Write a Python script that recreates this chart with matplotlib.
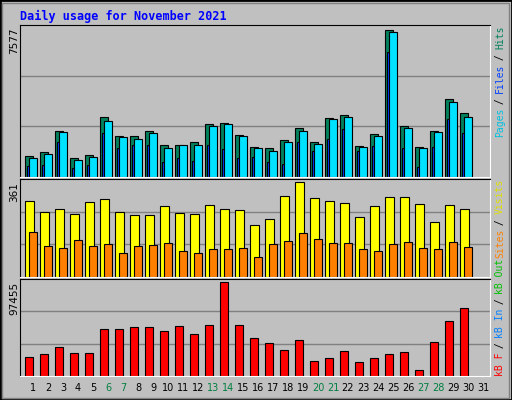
import matplotlib.pyplot as plt
import numpy as np
from matplotlib.patches import Rectangle

# Данные
days = np.arange(1, 31)
hits = [1100, 1306, 2385, 997, 1151, 3105, 2128, 2128, 2385, 1665, 1665, 1820, 2745, 2796, 2179,
        1563, 1511, 1922, 2539, 1820, 3053, 3207, 1614, 2231, 7577, 2642, 1563, 2385, 4030, 3310]
files = [997, 1203, 2334, 894, 1049, 2899, 2077, 1974, 2282, 1511, 1665, 1665, 2642, 2745, 2128,
         1511, 1357, 1820, 2385, 1717, 3002, 3105, 1563, 2128, 7474, 2539, 1511, 2334, 3876, 3105]
pages = [586, 637, 1820, 483, 637, 2282, 1511, 1665, 1665, 792, 997, 843, 1665, 1460, 997,
         1049, 792, 689, 1820, 1357, 1974, 2488, 1357, 1614, 6446, 1511, 535, 1563, 3002, 2282]
visits = [290, 247, 259, 239, 286, 298, 247, 235, 235, 270, 243, 239, 274, 259, 255,
          200, 223, 310, 361, 302, 290, 282, 227, 270, 306, 306, 278, 211, 274, 259]
sites = [172, 117, 109, 140, 117, 125, 93, 117, 121, 129, 101, 93, 105, 105, 109,
         77, 125, 137, 168, 144, 129, 129, 105, 101, 125, 133, 109, 105, 133, 113]
kbytes = [19490, 22680, 30120, 23740, 23740, 49260, 49260, 51390, 51390, 47130, 52450, 43940, 53510, 97455, 53510,
          39690, 34370, 26930, 37570, 15240, 18430, 25870, 14180, 18430, 22680, 24810, 6730, 35440, 56700, 70520]
weekend = [6, 7, 13, 14, 20, 21, 27, 28]

BG = '#c0c0c0'
W, H = 512, 400
fig = plt.figure(figsize=(5.12, 4), dpi=100, facecolor=BG)

def box(x0, y0, x1, y1):
    return [x0 / W, 1 - y1 / H, (x1 - x0) / W, (y1 - y0) / H]

# рамка картинки
fig.patches.append(Rectangle((0, 0), 1, 1, transform=fig.transFigure, fill=False, ec='black', lw=2))
fig.patches.append(Rectangle((2 / W, 2 / H), 1 - 5 / W, 1 - 5 / H, transform=fig.transFigure,
                             fill=False, ec='#808080', lw=1))
fig.text(20 / W, 1 - 16 / H, 'Daily usage for November 2021', color='#0000ff', fontsize=8.5,
         fontweight='bold', family='DejaVu Sans Mono', va='center')

def panel(y0, y1, ymax, label):
    ax = fig.add_axes(box(20, y0, 490, y1))
    ax.set_facecolor(BG)
    ax.set_xlim(0.133, 31.47)
    top = ymax * 1.035
    ax.set_ylim(0, top)
    for g in (top / 3, 2 * top / 3):
        ax.axhline(g, color='#808080', lw=1, zorder=0)
    ax.set_xticks([])
    ax.set_yticks([])
    for s in ('left', 'top'):
        ax.spines[s].set_color('black')
    for s in ('right', 'bottom'):
        ax.spines[s].set_color('white')
    fig.text(14 / W, 1 - (y0 + 3) / H, label, rotation=90, fontsize=7.5, ha='center', va='top',
             family='DejaVu Sans')
    return ax

def side_label(y_bottom, parts):
    y = y_bottom
    for txt, col in parts:
        fig.text(500 / W, 1 - y / H, txt, rotation=90, color=col, fontsize=7,
                 family='DejaVu Sans Mono', ha='center', va='bottom')
        y -= len(txt) * 5.5

kw = dict(edgecolor='black', linewidth=0.8, align='edge')

ax1 = panel(25, 177, max(hits), str(max(hits)))
ax1.bar(days - 0.53, hits, width=0.51, color='#00805c', **kw)
ax1.bar(days - 0.4, pages, width=0.2, color='#0040ff', **kw)
ax1.bar(days - 0.25, files, width=0.5, color='#00e0ff', **kw)
side_label(137, [('Pages', '#00c0e0'), (' / ', 'black'), ('Files', '#0040ff'),
                 (' / ', 'black'), ('Hits', '#00805c')])

ax2 = panel(179, 277, max(visits), str(max(visits)))
ax2.bar(days - 0.53, visits, width=0.58, color='#ffff00', **kw)
ax2.bar(days - 0.25, sites, width=0.5, color='#ff8000', **kw)
side_label(258, [('Sites', '#ff8000'), (' / ', 'black'), ('Visits', '#e0e000')])
side_label(376, [('kB F', '#ff0000'), (' / ', 'black'), ('kB In', '#0080ff'),
                 (' / ', 'black'), ('kB Out', '#00c000')])

ax3 = panel(279, 376, max(kbytes), str(max(kbytes)))
ax3.bar(days - 0.53, kbytes, width=0.51, color='#ff0000', **kw)

for d in range(1, 32):
    fig.text((33 + 15 * (d - 1)) / W, 1 - 388 / H, str(d), fontsize=7, ha='center', va='center',
             color='#008040' if d in weekend else 'black')

fig.savefig('out.png', dpi=100, facecolor=BG)
